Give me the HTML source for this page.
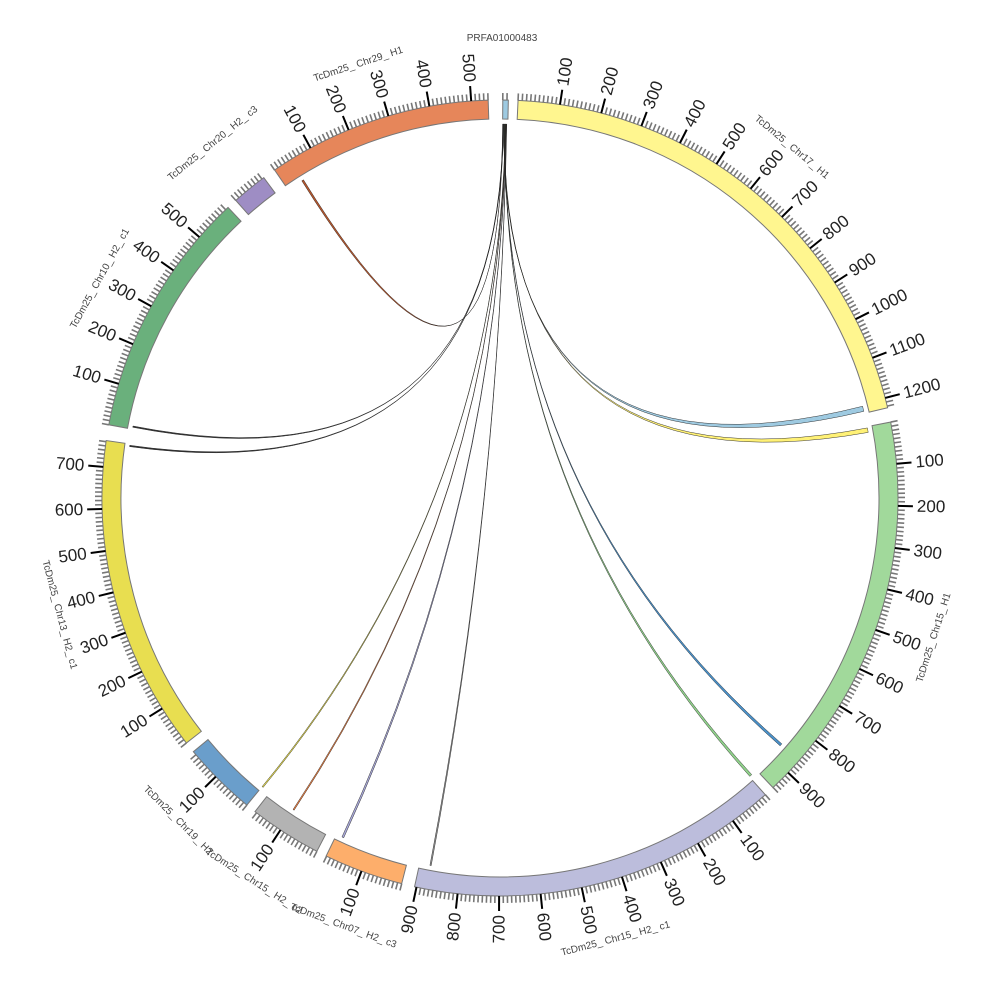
<!DOCTYPE html>
<html><head><meta charset="utf-8"><style>
html,body{margin:0;padding:0;background:#fff;}
svg{display:block;font-family:"Liberation Sans",sans-serif;}
</style></head><body>
<svg id="s" width="1000" height="1000" viewBox="0 0 1000 1000" xmlns="http://www.w3.org/2000/svg">
<rect width="1000" height="1000" fill="#fff"/>
<text x="502" y="41" font-size="10" fill="#444" text-anchor="middle">PRFA01000483</text>
</svg>
<script>
var S=document.getElementById('s'),NS='http://www.w3.org/2000/svg';
var cx=500,cy=498,R0=379,R1=398,K=0.0607;
function P(a,r){var t=a*Math.PI/180;return [cx+r*Math.sin(t),cy-r*Math.cos(t)];}
function el(n,at,txt){var e=document.createElementNS(NS,n);for(var k in at)e.setAttribute(k,at[k]);if(txt)e.textContent=txt;S.appendChild(e);return e;}
function f(p){return p[0].toFixed(2)+','+p[1].toFixed(2);}
var segs=[
['PRFA',0.4,1.2,'#9ecae1','',0.0607],
['Chr17_H1',2.6,76.9,'#fff68f','TcDm25_ Chr17_ H1',0.0607],
['Chr15_H1',79.0,136.7,'#a1d99b','TcDm25_ Chr15_ H1',0.0607],
['Chr15_H2_c1',138.2,192.4,'#bcbddc','TcDm25_ Chr15_ H2_ c1',0.0599],
['Chr07',194.3,205.9,'#fdae6b','TcDm25_ Chr07_ H2_ c3',0.0607],
['Chr15_H2_c2',207.4,218.0,'#b3b3b3','TcDm25_ Chr15_ H2_ c2',0.0607],
['Chr19',219.5,230.4,'#6a9ecb','TcDm25_ Chr19_ H2',0.0607],
['Chr13',232.0,278.3,'#e8de50','TcDm25_ Chr13_ H2_ c1',0.0607],
['Chr10',280.6,316.9,'#6ab07c','TcDm25_ Chr10_ H2_ c1',0.0607],
['Chr20',318.4,323.6,'#9e8dc4','TcDm25_ Chr20_ H2_ c3',0.0607],
['Chr29',325.5,358.3,'#e6865a','TcDm25_ Chr29_ H1',0.0607]
];
var links=[
[328,328.3,'#b5562d'],[280.9,281.1,'#333'],[277.9,278.1,'#333'],
[75.8,76.6,'#9ecae1'],[79.2,79.9,'#fff176'],[131.1,131.5,'#4a90c8'],
[137.7,138.1,'#8fd08a'],[219.3,219.5,'#e8de50'],[213.4,213.6,'#f08040'],
[204.7,205.0,'#a8a8d8'],[190.6,190.8,'#999']
];
var Rl=374,s0=0.4;
links.forEach(function(l,i){
 var sa=s0+i*0.06, sb=sa+0.04;
 var a=P(sa,Rl),b=P(sb,Rl),c=P(l[0],Rl),d=P(l[1],Rl);
 var dstr='M'+f(a)+' Q'+cx+','+cy+' '+f(d)+' A'+Rl+','+Rl+' 0 0 0 '+f(c)+' Q'+cx+','+cy+' '+f(b)+' Z';
 el('path',{d:dstr,fill:l[2],stroke:'#222','stroke-width':0.45});
});
segs.forEach(function(s){
 var a0=s[1],a1=s[2],k=s[5];
 var p1=P(a0,R1),p2=P(a1,R1),p3=P(a1,R0),p4=P(a0,R0);
 var lg=(a1-a0)>180?1:0;
 el('path',{d:'M'+f(p1)+' A'+R1+','+R1+' 0 '+lg+' 1 '+f(p2)+' L'+f(p3)+' A'+R0+','+R0+' 0 '+lg+' 0 '+f(p4)+' Z',fill:s[3],stroke:'#777','stroke-width':1});
 var len=(a1-a0)/k;
 for(var u=0;u<=len+0.01;u+=10){
  var a=a0+u*k,maj=(u%100===0&&u>0);
  if(maj){
   el('line',{x1:P(a,R1)[0],y1:P(a,R1)[1],x2:P(a,R1+15)[0],y2:P(a,R1+15)[1],stroke:'#000','stroke-width':2});
   var q=P(a,R1+19),rot,anc;
   if(a<180){rot=a-90;anc='start';}else{rot=a+90;anc='end';}
   el('text',{x:q[0],y:q[1],'font-size':17,fill:'#222','text-anchor':anc,'dominant-baseline':'central',transform:'rotate('+rot+' '+q[0]+' '+q[1]+')'},String(u));
  }else{
   el('line',{x1:P(a,R1)[0],y1:P(a,R1)[1],x2:P(a,R1+7)[0],y2:P(a,R1+7)[1],stroke:'#777','stroke-width':1.6});
  }
 }
 if(s[4]){
  var m=(a0+a1)/2,q=P(m,456),rot=(m>90&&m<270)?m-180:m;
  el('text',{x:q[0],y:q[1],'font-size':10,fill:'#444','text-anchor':'middle','dominant-baseline':'central',transform:'rotate('+rot+' '+q[0]+' '+q[1]+')'},s[4]);
 }
});
</script>
</body></html>
